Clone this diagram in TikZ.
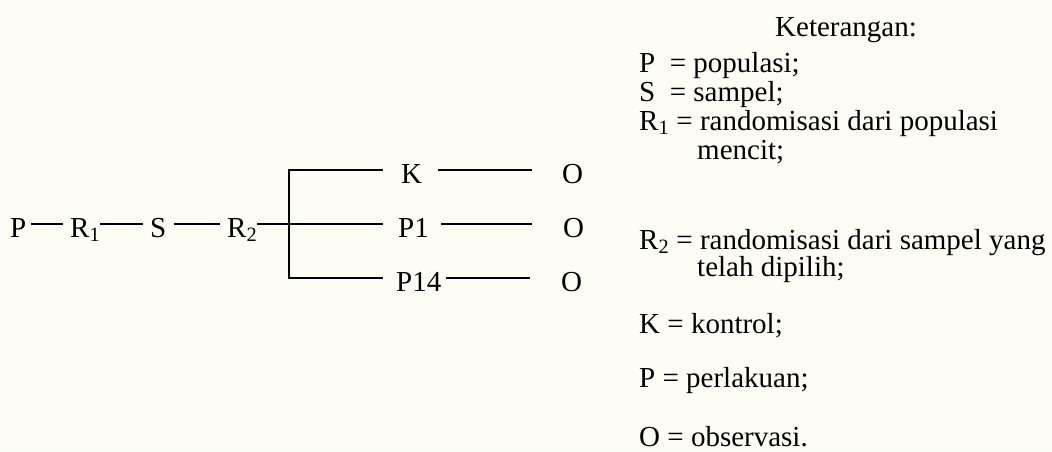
\documentclass[tikz,border=0pt]{standalone}
\usepackage{fontspec}
\setmainfont{Liberation Serif}
\definecolor{paper}{RGB}{253,253,246}
\begin{document}
\begin{tikzpicture}[x=1pt,y=-1pt,
  txt/.style={font=\fontsize{29pt}{33pt}\selectfont},
  lbl/.style={txt, inner sep=0pt, anchor=base west},
  term/.style={txt, inner sep=0pt, text height=26pt, text depth=0pt, anchor=base west},
  link/.style={line width=1.5pt}]
\fill[paper] (0,0) rectangle (1052,451);
\useasboundingbox (0,0) rectangle (1052,451);

% main chain
\node[term] (P)  at (10,237)  {P};
\node[term] (R1) at (70,237)  {R\textsubscript{1}};
\node[term] (S)  at (150,237) {S};
\node[term] (R2) at (227,237) {R\textsubscript{2}};

% groups
\node[term] (K)   at (401,183) {K};
\node[term] (P1)  at (398,237) {P1};
\node[term] (P14) at (396,291) {P14};

% observations
\node[term] (OK)   at (562,183) {O};
\node[term] (OP1)  at (563,237) {O};
\node[term] (OP14) at (561,291) {O};

\coordinate (fork) at (289,224);

\draw[link, shorten <=4pt, shorten >=7pt] (P.east) -- (R1.west);
\draw[link, shorten <=0pt, shorten >=7pt] (R1.east) -- (S.west);
\draw[link, shorten <=7pt, shorten >=7pt] (S.east) -- (R2.west);
\draw[link, shorten >=15pt] (R2.east) -- (P1.west);
\draw[link, shorten <=18pt] (K.west) -| (fork);
\draw[link, shorten <=13pt] (P14.west) -| (fork);

\draw[link, shorten <=16pt, shorten >=30pt] (K.east) -- (OK.west);
\draw[link, shorten <=12pt, shorten >=31pt] (P1.east) -- (OP1.west);
\draw[link, shorten <=4pt, shorten >=31pt] (P14.east) -- (OP14.west);

% legend
\node[lbl] (ket) at (775,36) {Keterangan:};
\node[lbl] (lP)  at (639,72)  {P\ \ = populasi;};
\node[lbl] (lS)  at (639,101) {S\ \ = sampel;};
\node[lbl] (lR1) at (639,130) {R\textsubscript{1} = randomisasi dari populasi};
\node[lbl] (lR1b) at (697,159) {mencit;};
\node[lbl] (lR2) at (639,249) {R\textsubscript{2} = randomisasi dari sampel yang};
\node[lbl] (lR2b) at (697,276) {telah dipilih;};
\node[lbl] (lK)  at (639,333) {K = kontrol;};
\node[lbl] (lPp) at (639,387) {P = perlakuan;};
\node[lbl] (lO)  at (639,446) {O = observasi.};
\end{tikzpicture}
\end{document}
